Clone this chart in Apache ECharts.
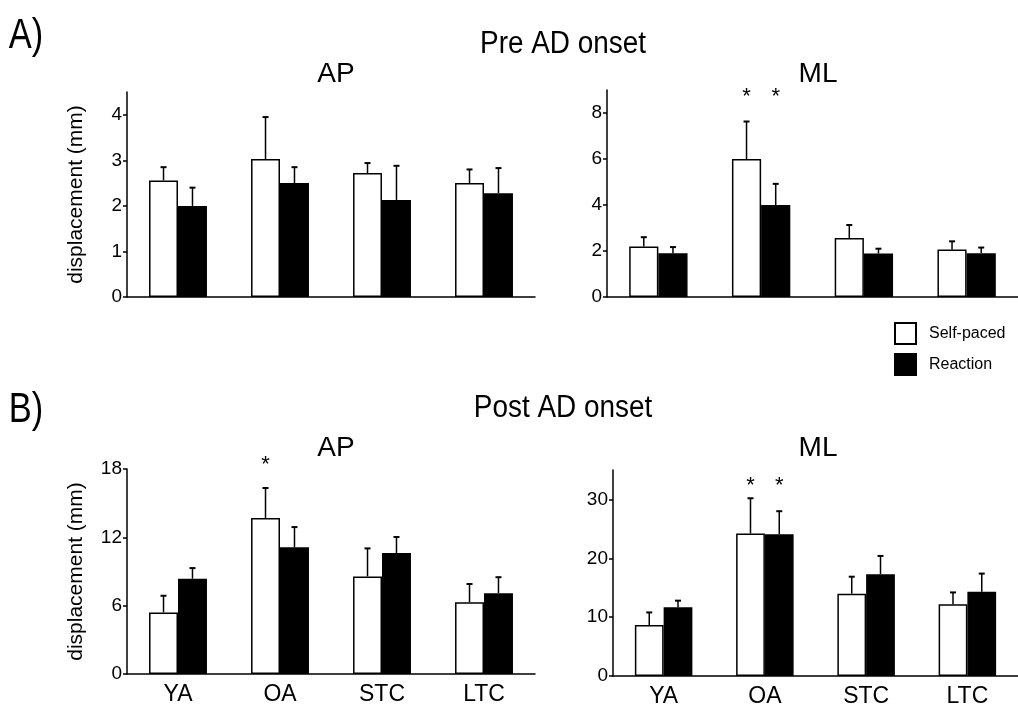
<!DOCTYPE html>
<html>
<head>
<meta charset="utf-8">
<script src="https://cdn.jsdelivr.net/npm/echarts@6/dist/echarts.min.js"></script>
<style>
  html, body { margin: 0; background: #fff; }
  #chart { width: 1018px; height: 713px; }
</style>
</head>
<body>
<div id="chart"></div>
<script>
// Group means and SD (mm).
const categories = ['YA', 'OA', 'STC', 'LTC'];

const preApSelf = [2.56, 3.03, 2.72, 2.50];
const preApSelfSd = [0.29, 0.92, 0.22, 0.30];
const preApReact = [2.00, 2.50, 2.13, 2.28];
const preApReactSd = [0.40, 0.35, 0.75, 0.55];
const preApTicks = [0, 1, 2, 3, 4];

const preMlSelf = [2.20, 6.00, 2.57, 2.06];
const preMlSelfSd = [0.40, 1.63, 0.56, 0.36];
const preMlReact = [1.90, 4.00, 1.89, 1.90];
const preMlReactSd = [0.27, 0.92, 0.21, 0.25];
const preMlTicks = [0, 2, 4, 6, 8];
const preMlStars = [[1, 0], [1, 1]];   // [category, 0 = self-paced / 1 = reaction]

const postApSelf = [5.41, 13.70, 8.57, 6.30];
const postApSelfSd = [1.46, 2.63, 2.46, 1.60];
const postApReact = [8.37, 11.12, 10.62, 7.10];
const postApReactSd = [0.93, 1.78, 1.41, 1.40];
const postApTicks = [0, 6, 12, 18];
const postApStars = [[1, 0]];

const postMlSelf = [8.66, 24.20, 13.98, 12.20];
const postMlSelfSd = [2.14, 6.00, 2.89, 2.00];
const postMlReact = [11.66, 24.10, 17.30, 14.30];
const postMlReactSd = [1.14, 3.90, 3.10, 3.10];
const postMlTicks = [0, 10, 20, 30];
const postMlStars = [[1, 0], [1, 1]];

const FONT = '"Liberation Sans", Arial, sans-serif';
const BAR_FRAC = 0.284;   // one bar's share of the category band

const panels = [
  { grid: { left: 127, top: 92, width: 408, height: 205 }, max: 4.5, ticks: preApTicks,
    self: preApSelf, selfSd: preApSelfSd, react: preApReact, reactSd: preApReactSd,
    stars: [], starAt: 0, xLabels: false, yName: true },
  { grid: { left: 607, top: 90, width: 412, height: 207 }, max: 9, ticks: preMlTicks,
    self: preMlSelf, selfSd: preMlSelfSd, react: preMlReact, reactSd: preMlReactSd,
    stars: preMlStars, starAt: 8.9, xLabels: false, yName: false },
  { grid: { left: 127, top: 469, width: 408, height: 205 }, max: 18, ticks: postApTicks,
    self: postApSelf, selfSd: postApSelfSd, react: postApReact, reactSd: postApReactSd,
    stars: postApStars, starAt: 18.8, xLabels: true, yName: true },
  { grid: { left: 613, top: 470, width: 410, height: 206 }, max: 35, ticks: postMlTicks,
    self: postMlSelf, selfSd: postMlSelfSd, react: postMlReact, reactSd: postMlReactSd,
    stars: postMlStars, starAt: 33.2, xLabels: true, yName: false },
];

const black = { color: '#000', width: 1.5 };

function renderErr(params, api) {
  const i = api.value(0), m = api.value(1), sd = api.value(2), side = api.value(3);
  const base = api.coord([i, m]);
  const top = api.coord([i, m + sd]);
  const bw = api.size([1, 0])[0] * BAR_FRAC;
  const x = base[0] + (side ? bw / 2 : -bw / 2);
  return {
    type: 'group',
    children: [
      { type: 'line', shape: { x1: x, y1: base[1], x2: x, y2: top[1] }, style: { stroke: '#000', lineWidth: 1.5 } },
      { type: 'line', shape: { x1: x - 3, y1: top[1], x2: x + 3, y2: top[1] }, style: { stroke: '#000', lineWidth: 2 } },
    ],
  };
}

function renderStar(params, api) {
  const i = api.value(0), side = api.value(1), y = api.value(2);
  const p = api.coord([i, y]);
  const bw = api.size([1, 0])[0] * BAR_FRAC;
  return {
    type: 'text',
    x: p[0] + (side ? bw / 2 : -bw / 2),
    y: p[1] - 6,
    style: { text: '*', font: '22px ' + FONT, fill: '#000', align: 'center', verticalAlign: 'top' },
  };
}

const grid = [], xAxis = [], yAxis = [], series = [];
panels.forEach((p, k) => {
  grid.push(p.grid);
  xAxis.push({
    type: 'category', gridIndex: k, data: categories,
    axisLine: { lineStyle: black },
    axisTick: { length: 4, lineStyle: black },
    axisLabel: { show: p.xLabels, color: '#000', fontSize: 23, fontFamily: FONT, margin: 9 },
  });
  yAxis.push({
    type: 'value', gridIndex: k, min: 0, max: p.max,
    name: p.yName ? 'displacement (mm)' : '',
    nameLocation: 'middle', nameGap: 40, nameRotate: 90,
    nameTextStyle: { color: '#000', fontSize: 21, fontFamily: FONT },
    axisLine: { show: true, lineStyle: black },
    axisTick: { show: true, length: 4, lineStyle: black, customValues: p.ticks },
    axisLabel: { color: '#000', fontSize: 19, fontFamily: FONT, margin: 5, customValues: p.ticks },
    splitLine: { show: false },
  });
  series.push(
    { name: 'Self-paced', type: 'bar', xAxisIndex: k, yAxisIndex: k, data: p.self,
      barWidth: (BAR_FRAC * 100) + '%', barGap: '0%',
      itemStyle: { color: '#fff', borderColor: '#000', borderWidth: 1.5 } },
    { name: 'Reaction', type: 'bar', xAxisIndex: k, yAxisIndex: k, data: p.react,
      barWidth: (BAR_FRAC * 100) + '%', barGap: '0%',
      itemStyle: { color: '#000', borderColor: '#000', borderWidth: 1.5 } },
    { type: 'custom', xAxisIndex: k, yAxisIndex: k, z: 3, renderItem: renderErr,
      data: p.self.map((v, i) => [i, v, p.selfSd[i], 0])
        .concat(p.react.map((v, i) => [i, v, p.reactSd[i], 1])) },
  );
  if (p.stars.length) {
    series.push({ type: 'custom', xAxisIndex: k, yAxisIndex: k, z: 3, renderItem: renderStar,
      data: p.stars.map(s => [s[0], s[1], p.starAt]) });
  }
});

// narrow: horizontal squeeze to mimic the condensed face used for the headings
function label(text, x, y, size, narrow) {
  return { type: 'text', x, y, scaleX: narrow || 1,
    style: { text, font: size + 'px ' + FONT, fill: '#000', align: 'center', verticalAlign: 'middle' } };
}

const chart = echarts.init(document.getElementById('chart'), null, { renderer: 'canvas' });
chart.setOption({
  animation: false,
  backgroundColor: '#fff',
  grid, xAxis, yAxis, series,
  legend: {
    data: ['Self-paced', 'Reaction'], orient: 'vertical', left: 894, top: 322,
    itemWidth: 21, itemHeight: 21, itemGap: 8, padding: 0, selectedMode: false, icon: 'rect',
    textStyle: { color: '#000', fontSize: 16, fontFamily: FONT, padding: [0, 0, 0, 8] },
  },
  graphic: [
    label('A)', 26, 36, 42, 0.82),
    label('Pre AD onset', 563, 44, 31, 0.9),
    label('AP', 336, 74, 28),
    label('ML', 818, 74, 28),
    label('B)', 26, 410, 42, 0.82),
    label('Post AD onset', 563, 408, 31, 0.9),
    label('AP', 336, 448, 28),
    label('ML', 818, 448, 28),
  ],
});
</script>
</body>
</html>
